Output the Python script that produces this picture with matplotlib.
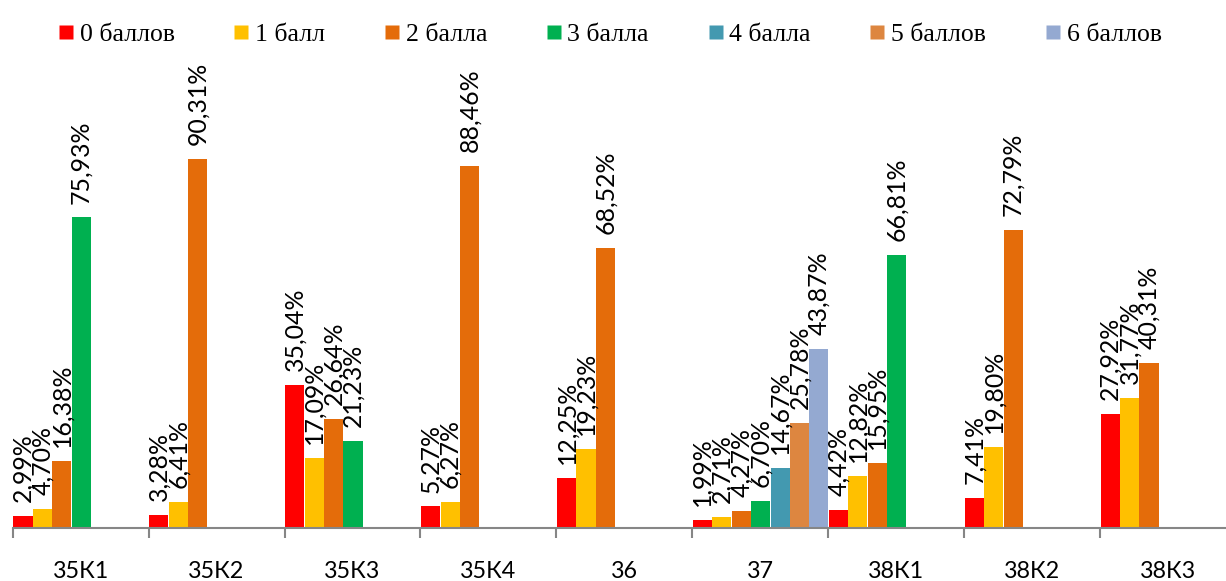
import numpy as np
import matplotlib
matplotlib.use("Agg")
import matplotlib.pyplot as plt
from matplotlib.lines import Line2D

categories = ["35К1", "35К2", "35К3", "35К4", "36", "37", "38К1", "38К2", "38К3"]
series_names = ["0 баллов", "1 балл", "2 балла", "3 балла", "4 балла", "5 баллов", "6 баллов"]
colors = ["#FF0000", "#FFC000", "#E46C0A", "#00B050", "#4399B0", "#DD8640", "#94A9D1"]

s0 = [2.99, 3.28, 35.04, 5.27, 12.25, 1.99, 4.42, 7.41, 27.92]
s1 = [4.70, 6.41, 17.09, 6.27, 19.23, 2.71, 12.82, 19.80, 31.77]
s2 = [16.38, 90.31, 26.64, 88.46, 68.52, 4.27, 15.95, 72.79, 40.31]
s3 = [75.93, None, 21.23, None, None, 6.70, 66.81, None, None]
s4 = [None, None, None, None, None, 14.67, None, None, None]
s5 = [None, None, None, None, None, 25.78, None, None, None]
s6 = [None, None, None, None, None, 43.87, None, None, None]
series = [s0, s1, s2, s3, s4, s5, s6]

W, H = 1226, 581
fig = plt.figure(figsize=(W / 100, H / 100), dpi=100)
left_px, base_px, top_px, cat_px = 12.7, 528, 119, 135.9
ax = fig.add_axes([left_px / W, (H - base_px) / H, 9 * cat_px / W, (base_px - top_px) / H])

n = len(series)
slot = 1.0 / n
label_font = "Lato"
for j, (vals, col) in enumerate(zip(series, colors)):
    for i, v in enumerate(vals):
        if v is None:
            continue
        x = i - 0.5 + (j + 0.5) * slot + 0.004
        ax.bar(x, v, width=slot * 0.985, color=col, edgecolor="none", zorder=2)
        ax.annotate(f"{v:.2f}%".replace(".", ","), xy=(x, v), xytext=(0, 10),
                    textcoords="offset points", rotation=90, ha="center", va="bottom",
                    fontsize=17.9, family=label_font, color="black", annotation_clip=False)

ax.set_xlim(-0.5, len(categories) - 0.5)
ax.set_ylim(0, 100)
for sp in ["top", "right", "left"]:
    ax.spines[sp].set_visible(False)
ax.spines["bottom"].set_color("#868686")
ax.spines["bottom"].set_linewidth(1.5)
ax.set_yticks([])
ax.set_xticks(range(len(categories)))
ax.set_xticklabels(categories, fontsize=16.8, family=label_font)
ax.tick_params(axis="x", which="major", length=0, pad=24)
ax.set_xticks(np.arange(-0.5, len(categories), 1.0), minor=True)
ax.tick_params(axis="x", which="minor", length=7, width=1.5, color="#868686", direction="out")

handles = [Line2D([], [], marker="s", linestyle="none", markersize=10, markerfacecolor=c,
                  markeredgecolor="none") for c in colors]
fig.legend(handles, series_names, loc="center", bbox_to_anchor=(610 / W, 1 - 35 / H), ncol=7,
           frameon=False, prop={"family": "Liberation Serif", "size": 18.5},
           handlelength=0.58, handletextpad=0.25, columnspacing=2.3, borderaxespad=0,
           borderpad=0)

fig.savefig("out.png", dpi=100)
